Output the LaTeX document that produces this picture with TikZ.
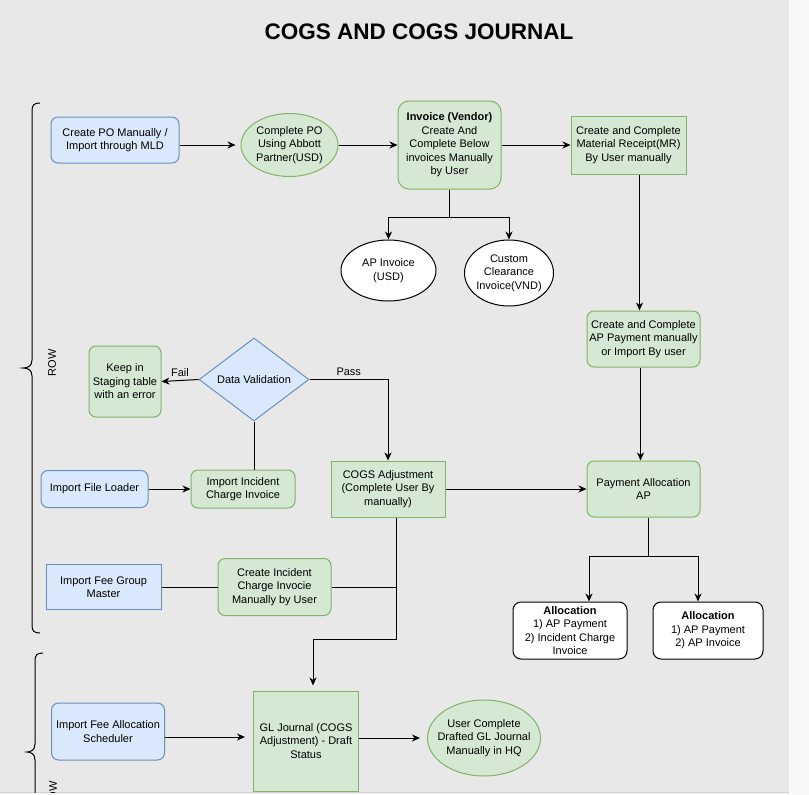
\documentclass[tikz,border=0pt]{standalone}
\usepackage{fontspec}
\setmainfont{Liberation Sans}
\usetikzlibrary{arrows.meta, shapes.geometric}

\definecolor{bgGray}{HTML}{E8E8E8}
\definecolor{edgeGray}{HTML}{F8F8F8}
\definecolor{rimGray}{HTML}{D2D2D2}
\definecolor{blueFill}{HTML}{DAE8FC}
\definecolor{blueLine}{HTML}{6C8EBF}
\definecolor{greenFill}{HTML}{D5E8D4}
\definecolor{greenLine}{HTML}{82B366}

\begin{document}
\begin{tikzpicture}[x=1pt, y=-1pt, >={Stealth[length=8pt, width=7pt, inset=2.5pt]},
    font=\fontsize{11}{13.5}\selectfont, line width=1pt,
    blueRound/.style={draw=blueLine, fill=blueFill, rounded corners=7pt, align=center, inner sep=0pt},
    blueSquare/.style={draw=blueLine, fill=blueFill, align=center, inner sep=0pt},
    greenRound/.style={draw=greenLine, fill=greenFill, rounded corners=7pt, align=center, inner sep=0pt},
    greenSquare/.style={draw=greenLine, fill=greenFill, align=center, inner sep=0pt},
    greenOval/.style={ellipse, draw=greenLine, fill=greenFill, align=center, inner xsep=-10pt, inner ysep=0pt},
    whiteOval/.style={ellipse, draw=black, fill=white, align=center, inner xsep=-10pt, inner ysep=0pt},
    whiteRound/.style={draw=black, fill=white, rounded corners=8pt, align=center, inner sep=0pt},
    flow/.style={->, black}]

    % --- 1. Page and background ---
    \useasboundingbox (0,0) rectangle (809,795);
    \fill[edgeGray] (0,0) rectangle (809,795);
    \fill[bgGray] (0,0) rectangle (789,792);
    \draw[rimGray] (0,792.5) -- (789,792.5);

    \begin{scope}
    \clip (0,0) rectangle (789,792);

    % Title
    \node[font=\fontsize{22.5}{26}\selectfont\bfseries] (title) at (419,32) {COGS AND COGS JOURNAL};

    % --- 2. Top row (PO -> Invoice -> MR) ---
    \node[blueRound, minimum width=128pt, minimum height=46pt] (createPO) at (115,140) {Create PO Manually /\\Import through MLD};
    \node[greenOval, minimum width=97pt, minimum height=63pt] (completePO) at (289.5,145) {Complete PO\\Using Abbott\\Partner(USD)};
    \node[greenRound, rounded corners=11pt, minimum width=103pt, minimum height=88pt] (invoice) at (449.5,145)
        {\textbf{Invoice (Vendor)}\\Create And\\Complete Below\\invoices Manually\\by User};
    \node[greenSquare, minimum width=115pt, minimum height=58pt] (matReceipt) at (628.5,145) {Create and Complete\\Material Receipt(MR)\\By User manually};

    % invoice types
    \node[whiteOval, minimum width=95pt, minimum height=61pt] (apInvoice) at (388.5,270.5) {AP Invoice\\(USD)};
    \node[whiteOval, minimum width=89pt, minimum height=66pt] (customInv) at (509,273) {Custom\\Clearance\\Invoice(VND)};

    % --- 3. Payment column ---
    \node[greenRound, minimum width=113pt, minimum height=56pt] (apPayment) at (643.5,339) {Create and Complete\\AP Payment manually\\or Import By user};
    \node[greenRound, minimum width=113pt, minimum height=56pt] (payAlloc) at (643.5,489) {Payment Allocation\\AP};
    \node[whiteRound, minimum width=114pt, minimum height=57pt] (allocOne) at (570,630.5) {\textbf{Allocation}\\1) AP Payment\\2) Incident Charge\\Invoice};
    \node[whiteRound, minimum width=110pt, minimum height=57pt] (allocTwo) at (708,630.5) {\textbf{Allocation}\\1) AP Payment\\2) AP Invoice};

    % --- 4. Incident charge part ---
    \node[diamond, draw=blueLine, fill=blueFill, aspect=1.33, inner sep=0pt, minimum width=110pt, minimum height=83pt] (dataVal) at (254,379.5) {Data Validation};
    \node[greenRound, minimum width=72pt, minimum height=71pt] (keepStaging) at (125,381.5) {Keep in\\Staging table\\with an error};
    \node[greenSquare, minimum width=114pt, minimum height=56pt] (cogsAdj) at (388,489) {COGS Adjustment\\(Complete User By\\manually)};
    \node[greenRound, minimum width=104pt, minimum height=38pt] (importInc) at (243,489) {Import Incident\\Charge Invoice};
    \node[blueRound, minimum width=107pt, minimum height=37pt] (fileLoader) at (94.5,489) {Import File Loader};
    \node[blueSquare, minimum width=115pt, minimum height=45pt] (feeGroup) at (103.5,587) {Import Fee Group\\Master};
    \node[greenRound, minimum width=113pt, minimum height=57pt] (createInc) at (274.5,587) {Create Incident\\Charge Invocie\\Manually by User};

    % --- 5. GL journal row ---
    \node[greenSquare, minimum width=105pt, minimum height=100pt] (glJournal) at (306,741) {GL Journal (COGS\\Adjustment)\  - Draft\\Status};
    \node[blueRound, minimum width=113pt, minimum height=57pt] (feeAlloc) at (108,731.5) {Import Fee Allocation\\Scheduler};
    \node[greenOval, minimum width=113pt, minimum height=76pt] (userComplete) at (484,738) {User Complete\\Drafted GL Journal\\Manually in HQ};

    % --- 6. Connectors ---
    \draw[flow, shorten >=5pt] ([yshift=-5pt]createPO.east) -- (completePO.west);
    \draw[flow] (completePO.east) -- (invoice.west);
    \draw[flow] (invoice.east) -- (matReceipt.west);
    \draw (invoice.south) -- ++(0,28) coordinate (invSplit);
    \draw[flow] (invSplit) -| (apInvoice.north);
    \draw[flow] (invSplit) -| (customInv.north);
    \draw[flow] ([xshift=11pt]matReceipt.south) -- ([xshift=11pt]matReceipt.south |- apPayment.north);
    \draw[flow] ([xshift=-3pt]apPayment.south) -- ([xshift=-3pt]payAlloc.north);
    \draw ([xshift=4.5pt]payAlloc.south) -- ++(0,39) coordinate (paySplit);
    \draw[flow] (paySplit) -| ([xshift=19pt]allocOne.north);
    \draw[flow] (paySplit) -| ([xshift=-10pt]allocTwo.north);
    \draw[flow] (cogsAdj.east) -- (payAlloc.west);

    \draw[flow] (dataVal.west) -- (keepStaging.east) node[midway, above] {Fail};
    \draw[flow] (dataVal.east) -| (cogsAdj.north) node[pos=0.25, above] {Pass};
    \draw[flow] (fileLoader.east) -- (importInc.west);
    \draw (importInc.north -| dataVal.south) -- (dataVal.south);
    \draw (feeGroup.east) -- (createInc.west);
    \draw[flow, shorten >=5pt] ([xshift=8pt]cogsAdj.south) -- ++(0,122) coordinate (cogsTurn) -| ([xshift=7pt]glJournal.north);
    \draw (createInc.east) -- (createInc.east -| cogsTurn);

    \draw[flow, shorten >=8pt] ([yshift=-5.5pt]feeAlloc.east) -- ([yshift=-5.5pt]feeAlloc.east -| glJournal.west);
    \draw[flow, shorten >=7pt] (glJournal.east |- userComplete.west) -- (userComplete.west);

    % --- 7. Row braces ---
    \draw (40,103) .. controls (34,103) and (32,105) .. (32,111) -- (32,360)
        .. controls (32,366) and (28,368) .. (23,368) .. controls (28,368) and (32,370) .. (32,376)
        -- (32,625) .. controls (32,631) and (34,633) .. (40,633);
    \node[rotate=90] (rowOne) at (52,363) {ROW};

    \draw (43,653) .. controls (37,653) and (35,655) .. (35,661) -- (35,744)
        .. controls (35,750) and (31,752) .. (27,752) .. controls (31,752) and (35,754) .. (35,760)
        -- (35,843) .. controls (35,849) and (37,851) .. (43,851);
    \node[rotate=90] (rowTwo) at (53,795) {ROW};
    \end{scope}

\end{tikzpicture}
\end{document}
